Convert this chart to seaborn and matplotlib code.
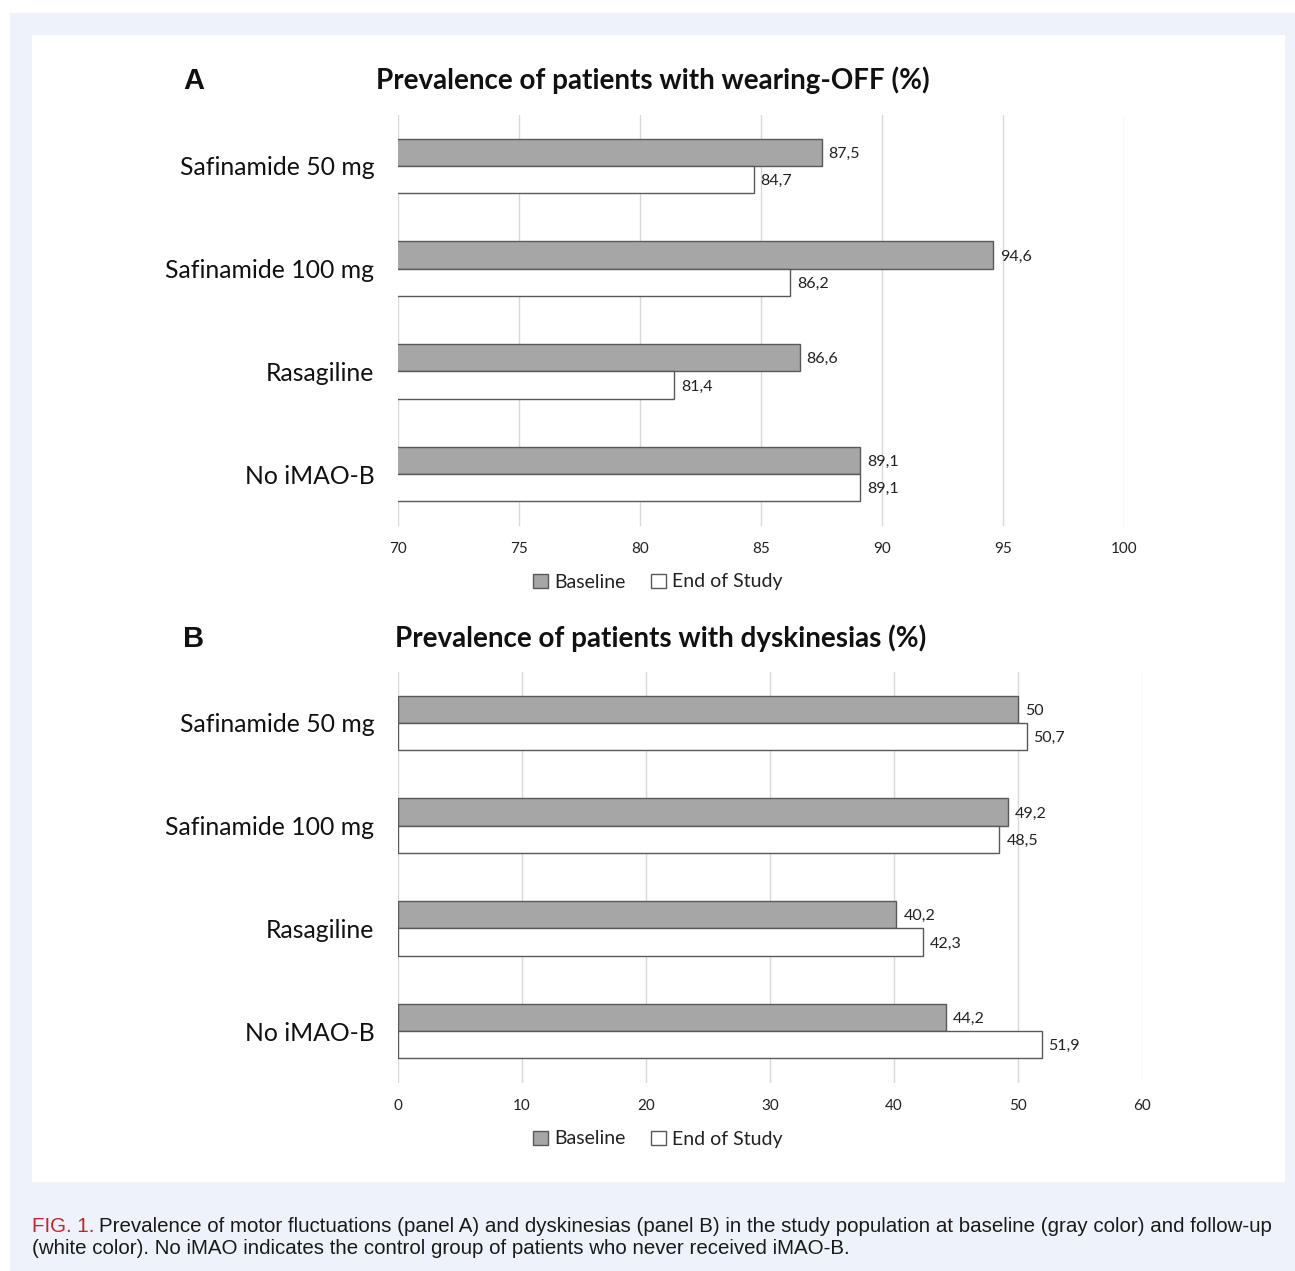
import matplotlib
matplotlib.use("Agg")
import matplotlib.pyplot as plt
from matplotlib.patches import Rectangle, Patch
import pandas as pd
import seaborn as sns

# Data
groups = ["Safinamide 50 mg", "Safinamide 100 mg", "Rasagiline", "No iMAO-B"]
series = ["Baseline", "End of Study"]
wearing_off_baseline = [87.5, 94.6, 86.6, 89.1]
wearing_off_end = [84.7, 86.2, 81.4, 89.1]
dysk_baseline = [50, 49.2, 40.2, 44.2]
dysk_end = [50.7, 48.5, 42.3, 51.9]
ticks_a = [70, 75, 80, 85, 90, 95, 100]
ticks_b = [0, 10, 20, 30, 40, 50, 60]

sns.set_style("white")
plt.rcParams["font.family"] = ["Lato", "DejaVu Sans"]

W, H = 1295, 1271
fig = plt.figure(figsize=(W / 100, H / 100), dpi=100)
fig.patch.set_facecolor("white")

# page background and white chart panel
fig.add_artist(Rectangle((10 / W, 0), 1 - 10 / W, 1 - 13 / H, transform=fig.transFigure,
                         facecolor="#eef3fb", edgecolor="none", zorder=-3))
fig.add_artist(Rectangle((32 / W, 1 - 1182 / H), (1285 - 32) / W, (1182 - 35) / H,
                         transform=fig.transFigure, facecolor="white", edgecolor="none", zorder=-2))

palette = {"Baseline": "#a6a6a6", "End of Study": "white"}


def fmt(v):
    return f"{v:g}".replace(".", ",")


def draw_panel(top_px, bottom_px, right_px, base, end, xlim, ticks, title, title_x, letter, title_y, legend_y):
    ax = fig.add_axes([398 / W, 1 - bottom_px / H, (right_px - 398) / W, (bottom_px - top_px) / H])
    ax.patch.set_alpha(0)
    df = pd.DataFrame({
        "Group": groups * 2,
        "Series": [series[0]] * 4 + [series[1]] * 4,
        "Value": base + end,
    })
    sns.barplot(data=df, y="Group", x="Value", hue="Series", order=groups, hue_order=series,
                palette=palette, orient="h", width=0.53, gap=0, edgecolor="#595959",
                linewidth=1.0, ax=ax, legend=False, zorder=3)
    ax.set_xlim(*xlim)
    ax.set_ylim(3.5, -0.5)
    ax.set_xticks(ticks)
    ax.xaxis.grid(True, color="#d9d9d9", linewidth=1.0, zorder=0)
    ax.set_axisbelow(True)
    for s in ax.spines.values():
        s.set_visible(False)
    ax.tick_params(axis="x", length=0, pad=12, labelsize=11, labelcolor="#222222")
    ax.tick_params(axis="y", length=0, pad=17, labelsize=17.8, labelcolor="#111111")
    ax.set_xlabel("")
    ax.set_ylabel("")
    for cont, vals in zip(ax.containers, [base, end]):
        texts = ax.bar_label(cont, labels=[fmt(v) for v in vals], padding=5, fontsize=11.5,
                             color="#222222")
        for t in texts:
            t.set_va("center_baseline")
    fig.text(title_x / W, 1 - title_y / H, title, ha="center", va="center",
             fontsize=20, fontweight="bold", color="#111111")
    fig.text(194 / W, 1 - (title_y + 1) / H, letter, ha="center", va="center",
             fontsize=21, fontweight="bold", color="#111111", family=["Liberation Sans", "DejaVu Sans"])
    handles = [Patch(facecolor=palette[s], edgecolor="#595959", linewidth=1.0, label=s) for s in series]
    fig.legend(handles=handles, loc="center", bbox_to_anchor=(658 / W, 1 - legend_y / H), ncol=2,
               frameon=False, fontsize=14, handlelength=0.75, handleheight=0.75,
               handletextpad=0.35, columnspacing=1.3, labelcolor="#222222")
    return ax


draw_panel(114.5, 525.5, 1124, wearing_off_baseline, wearing_off_end, (70, 100), ticks_a,
           "Prevalence of patients with wearing-OFF (%)", 653, "A", 80, 582)
draw_panel(671.5, 1082.5, 1142, dysk_baseline, dysk_end, (0, 60), ticks_b,
           "Prevalence of patients with dyskinesias (%)", 661, "B", 638, 1139)

# caption
cap_font = ["Liberation Sans", "DejaVu Sans"]
cap_size = 14.75
t1 = fig.text(32 / W, 1 - 1227 / H, "FIG. 1.", ha="left", va="center", fontsize=cap_size,
              color="#c0262d", family=cap_font)
fig.canvas.draw()
bb = t1.get_window_extent(renderer=fig.canvas.get_renderer())
fig.text((bb.x1 + 5) / W, 1 - 1227 / H,
         "Prevalence of motor fluctuations (panel A) and dyskinesias (panel B) in the study population "
         "at baseline (gray color) and follow-up",
         ha="left", va="center", fontsize=cap_size, color="#1a1a1a", family=cap_font)
fig.text(32 / W, 1 - 1248 / H,
         "(white color). No iMAO indicates the control group of patients who never received iMAO-B.",
         ha="left", va="center", fontsize=cap_size, color="#1a1a1a", family=cap_font)

fig.savefig("out.png", dpi=100, facecolor="white")
